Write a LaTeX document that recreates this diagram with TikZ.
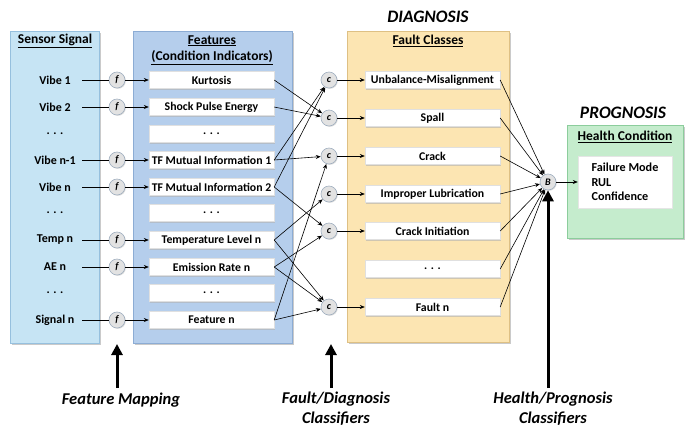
\documentclass[tikz,border=0pt]{standalone}
\usepackage{fontspec}
\setmainfont{Carlito}
\usetikzlibrary{arrows.meta,shadows}

\definecolor{sensorfill}{RGB}{198,228,244}
\definecolor{sensorline}{RGB}{150,192,222}
\definecolor{featfill}{RGB}{181,206,236}
\definecolor{featline}{RGB}{140,172,212}
\definecolor{faultfill}{RGB}{252,229,178}
\definecolor{faultline}{RGB}{222,192,132}
\definecolor{healthfill}{RGB}{197,236,205}
\definecolor{healthline}{RGB}{140,205,156}
\definecolor{circfill}{RGB}{226,226,226}
\definecolor{circline}{RGB}{160,175,192}

\tikzset{
  panel/.style={draw, line width=0.6pt, anchor=north west, inner sep=0pt,
    drop shadow={shadow xshift=1.6pt, shadow yshift=-1.6pt, fill=black!35, opacity=0.6}},
  whitebox/.style={fill=white, draw=black!12, line width=0.4pt, inner sep=0pt,
    minimum height=17pt, font=\fontsize{11.8}{13}\selectfont\bfseries,
    drop shadow={shadow xshift=1.2pt, shadow yshift=-1.2pt, fill=black!30, opacity=0.6}},
  featbox/.style={whitebox, minimum width=125pt},
  faultbox/.style={whitebox, minimum width=135pt},
  sensorlabel/.style={inner sep=0pt, minimum width=54pt, align=center,
    font=\fontsize{12}{13}\selectfont\bfseries},
  header/.style={inner sep=0pt, align=center, font=\fontsize{13.5}{16.5}\selectfont\bfseries},
  bigtitle/.style={inner sep=0pt, font=\fontsize{17.5}{19}\selectfont\bfseries\itshape},
  bottomlabel/.style={inner sep=0pt, align=center, font=\fontsize{16.5}{20}\selectfont\bfseries\itshape},
  circ/.style={circle, fill=circfill, draw=circline, line width=0.6pt, minimum size=16pt,
    inner sep=0pt, font=\fontsize{10}{10}\selectfont\bfseries\itshape,
    drop shadow={shadow xshift=0.8pt, shadow yshift=-0.8pt, fill=black!30, opacity=0.5}},
  link/.style={line width=0.6pt, -{Stealth[length=5pt,width=4pt]}},
  plain/.style={line width=0.6pt},
  bigarrow/.style={line width=3pt, -{Triangle[length=11pt,width=11pt]}}
}

\begin{document}
\begin{tikzpicture}[x=1pt,y=-1pt]
\useasboundingbox (0,0) rectangle (689,429);

% column panels
\node[panel, fill=sensorfill, draw=sensorline, minimum width=89pt, minimum height=312pt] (sensorpanel) at (10,31) {};
\node[panel, fill=featfill, draw=featline, minimum width=159pt, minimum height=312pt] (featpanel) at (133,31) {};
\node[panel, fill=faultfill, draw=faultline, minimum width=162pt, minimum height=311pt] (faultpanel) at (347,31) {};
\node[panel, fill=healthfill, draw=healthline, minimum width=116pt, minimum height=113pt] (healthpanel) at (567,125) {};

% headings
\node[header] (hsensor) at (55,41) {\underline{Sensor Signal}};
\node[header] (hfeat) at (212,50) {\underline{Features}\\\underline{(Condition Indicators)}};
\node[header] (hfault) at (428,41) {\underline{Fault Classes}};
\node[header] (hhealth) at (625,137) {\underline{Health Condition}};
\node[bigtitle] (tdiag) at (428,17) {DIAGNOSIS};
\node[bigtitle] (tprog) at (623,113) {PROGNOSIS};

% sensor signals
\node[sensorlabel] (s1) at (55,80) {Vibe 1};
\node[sensorlabel] (s2) at (55,107) {Vibe 2};
\node[sensorlabel] (sd1) at (55,134) {. . .};
\node[sensorlabel] (s3) at (55,160) {Vibe n-1};
\node[sensorlabel] (s4) at (55,187) {Vibe n};
\node[sensorlabel] (sd2) at (55,213) {. . .};
\node[sensorlabel] (s5) at (55,240) {Temp n};
\node[sensorlabel] (s6) at (55,267) {AE n};
\node[sensorlabel] (sd3) at (55,293) {. . .};
\node[sensorlabel] (s7) at (55,320) {Signal n};

% feature mapping functions
\foreach \i/\y in {1/80,2/107,3/160,4/187,5/240,6/267,7/320}
  \node[circ] (f\i) at (117,\y) {f};

% features
\node[featbox] (kurt) at (211.5,80) {Kurtosis};
\node[featbox] (shock) at (211.5,107) {Shock Pulse Energy};
\node[featbox] (fd1) at (211.5,134) {. . .};
\node[featbox] (tf1) at (211.5,160) {TF Mutual Information 1};
\node[featbox] (tf2) at (211.5,187) {TF Mutual Information 2};
\node[featbox] (fd2) at (211.5,213) {. . .};
\node[featbox] (temp) at (211.5,240) {Temperature Level n};
\node[featbox] (emis) at (211.5,267) {Emission Rate n};
\node[featbox] (fd3) at (211.5,293) {. . .};
\node[featbox] (featn) at (211.5,320) {Feature n};

\foreach \i/\t in {1/kurt,2/shock,3/tf1,4/tf2,5/temp,6/emis,7/featn}{
  \draw[plain] (s\i.east) -- (f\i);
  \draw[link] (f\i) -- (\t.west);
}

% diagnosis classifiers
\node[circ] (cU) at (329,80) {c};
\node[circ] (cS) at (329,118) {c};
\node[circ] (cC) at (329,156) {c};
\node[circ] (cI) at (329,194) {c};
\node[circ] (cCI) at (329,231) {c};
\node[circ] (cF) at (329,307) {c};

% fault classes
\node[faultbox] (uM) at (432.5,80) {Unbalance-Misalignment};
\node[faultbox] (spall) at (432.5,118) {Spall};
\node[faultbox] (crack) at (432.5,156) {Crack};
\node[faultbox] (lub) at (432.5,194) {Improper Lubrication};
\node[faultbox] (init) at (432.5,231) {Crack Initiation};
\node[faultbox] (dots) at (432.5,269) {. . .};
\node[faultbox] (faultn) at (432.5,307) {Fault n};

% feature to classifier links
\draw[link] (kurt.east) -- (cS);
\draw[link] (shock.east) -- (cS);
\draw[link] (tf1.east) -- (cU);
\draw[link] (tf1.east) -- (cC);
\draw[link] (tf2.east) -- (cU);
\draw[link] (tf2.east) -- (cCI);
\draw[link] (temp.east) -- (cI);
\draw[link] (temp.east) -- (cF);
\draw[link] (emis.east) -- (cCI);
\draw[link] (emis.east) -- (cF);
\draw[link] (featn.east) -- (cC);
\draw[link] (featn.east) -- (cF);

% classifier to fault class links
\draw[link] (cU) -- (uM.west);
\draw[link] (cS) -- (spall.west);
\draw[link] (cC) -- (crack.west);
\draw[link] (cI) -- (lub.west);
\draw[link] (cCI) -- (init.west);
\draw[link] (cF) -- (faultn.west);

% prognosis classifier
\node[circ] (B) at (548,182) {B};
\foreach \t in {uM,spall,crack,lub,init,dots,faultn}
  \draw[link] (\t.east) -- (B);

% health condition
\node[fill=white, draw=black!10, line width=0.4pt, minimum width=94pt, minimum height=52pt,
  inner sep=0pt, align=left, font=\fontsize{12.2}{14.5}\selectfont\bfseries,
  drop shadow={shadow xshift=1.2pt, shadow yshift=-1.2pt, fill=black!30, opacity=0.6}]
  (hbox) at (625,182) {Failure Mode\\RUL\\Confidence};
\draw[link] (B) -- (hbox.west);

% stage arrows and captions
\coordinate (a1) at (117,388);
\coordinate (a2) at (331,388);
\coordinate (a3) at (548,388);
\draw[bigarrow] (a1) -- (117,344);
\draw[bigarrow] (a2) -- (331,344);
\draw[bigarrow] (a3) -- (B.south);
\node[bottomlabel] (lab1) at (121,400) {Feature Mapping};
\node[bottomlabel] (lab2) at (336,408.5) {Fault/Diagnosis\\Classifiers};
\node[bottomlabel] (lab3) at (553,408.5) {Health/Prognosis\\Classifiers};
\end{tikzpicture}
\end{document}
